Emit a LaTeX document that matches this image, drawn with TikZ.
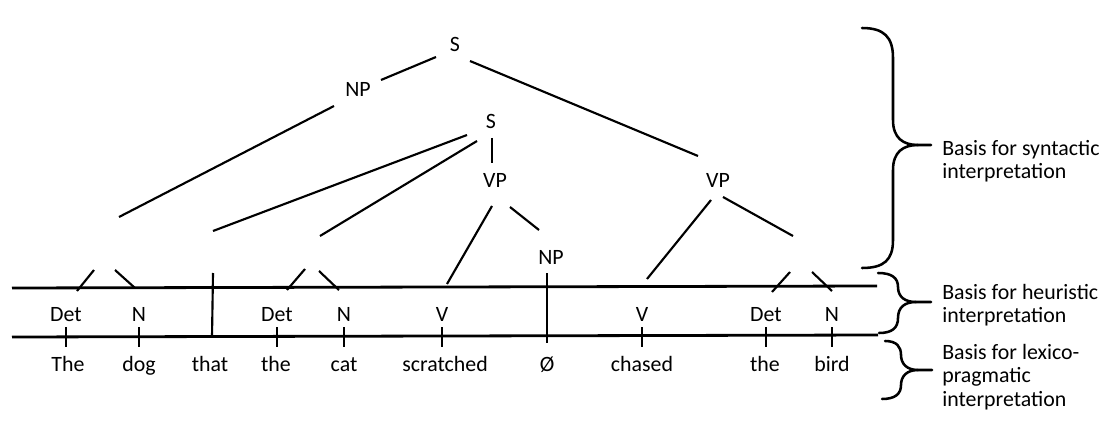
\documentclass[tikz,border=0pt]{standalone}
\usepackage{fontspec}
\setmainfont{Carlito}
\begin{document}
\begin{tikzpicture}[x=0.75pt,y=-0.75pt,
  every node/.style={font=\fontsize{16.4}{17.5}\selectfont, inner sep=0pt},
  lbl/.style={anchor=base},
  branch/.style={line width=1.6pt},
  rulebar/.style={line width=2.1pt},
  tickmark/.style={line width=1.6pt},
  brace/.style={line width=1.9pt, line cap=round},
  side/.style={anchor=west, align=left}]
\useasboundingbox (0,0) rectangle (1105,424);

% phrase labels
\node[lbl] (S0)  at (455,52)  {S};
\node[lbl] (NP0) at (358,97)  {NP};
\node[lbl] (S1)  at (491,129) {S};
\node[lbl] (VP1) at (495,187) {VP};
\node[lbl] (NP1) at (551,264) {NP};
\node[lbl] (VP0) at (718,187) {VP};

% word-class labels
\node[lbl] (p1) at (66,321)  {Det};
\node[lbl] (p2) at (139,321) {N};
\node[lbl] (p3) at (277,321) {Det};
\node[lbl] (p4) at (344,321) {N};
\node[lbl] (p5) at (442,321) {V};
\node[lbl] (p6) at (642,321) {V};
\node[lbl] (p7) at (766,321) {Det};
\node[lbl] (p8) at (832,321) {N};

% words
\node[lbl] (w1)  at (68,371)  {The};
\node[lbl] (w2)  at (139,371) {dog};
\node[lbl] (w3)  at (210,371) {that};
\node[lbl] (w4)  at (276,371) {the};
\node[lbl] (w5)  at (344,371) {cat};
\node[lbl] (w6)  at (445,371) {scratched};
\node[lbl] (w7)  at (547,371) {Ø};
\node[lbl] (w8)  at (642,371) {chased};
\node[lbl] (w9)  at (765,371) {the};
\node[lbl] (w10) at (832,371) {bird};

% the two horizontal levels
\coordinate (uL) at (12,288);  \coordinate (uR) at (877,286);
\coordinate (lL) at (12,337);  \coordinate (lR) at (878,335);
\draw[rulebar] (uL) -- (uR);
\draw[rulebar] (lL) -- (lR);

% ticks on the lower level
\foreach \n in {p1,p2,p3,p4,p5,p6,p7,p8}
  \draw[tickmark] (\n.base |- 0,327) -- (\n.base |- 0,347);

% branch end points
\coordinate (a1) at (436,57);  \coordinate (a2) at (381,80);
\coordinate (b1) at (470,61);  \coordinate (b2) at (698,156);
\coordinate (c1) at (334,106); \coordinate (c2) at (119,217);
\coordinate (d1) at (94,270);  \coordinate (d2) at (77,291);
\coordinate (e1) at (115,270); \coordinate (e2) at (135,288);
\coordinate (f1) at (467,135); \coordinate (f2) at (213,231);
\coordinate (g1) at (213,273); \coordinate (g2) at (212,337);
\coordinate (h1) at (477,141); \coordinate (h2) at (320,236);
\coordinate (i1) at (305,269); \coordinate (i2) at (287,290);
\coordinate (j1) at (319,271); \coordinate (j2) at (339,290);
\coordinate (k1) at (492,138); \coordinate (k2) at (492,163);
\coordinate (m1) at (492,206); \coordinate (m2) at (447,284);
\coordinate (n1) at (510,207); \coordinate (n2) at (539,230);
\coordinate (o1) at (547,273); \coordinate (o2) at (547,343);
\coordinate (q1) at (711,200); \coordinate (q2) at (647,279);
\coordinate (r1) at (723,197); \coordinate (r2) at (793,236);
\coordinate (s1) at (790,272); \coordinate (s2) at (772,292);
\coordinate (t1) at (812,272); \coordinate (t2) at (832,291);

\foreach \u/\v in {a1/a2,b1/b2,c1/c2,d1/d2,e1/e2,f1/f2,g1/g2,h1/h2,i1/i2,
                   j1/j2,k1/k2,m1/m2,n1/n2,o1/o2,q1/q2,r1/r2,s1/s2,t1/t2}
  \draw[branch] (\u) -- (\v);

% braces
\draw[brace] (862,28) .. controls (884,28) and (893,37) .. (893,58) -- (893,120)
  .. controls (893,138) and (903,145) .. (918,145) -- (931,145);
\draw[brace] (918,145) .. controls (903,145) and (893,152) .. (893,170) -- (893,240)
  .. controls (893,260) and (884,268) .. (862,268);

\draw[brace] (878,273) .. controls (892,273) and (898,278) .. (898,287)
  .. controls (898,297) and (905,302) .. (916,302) -- (931,302);
\draw[brace] (916,302) .. controls (905,302) and (898,307) .. (898,318)
  .. controls (898,328) and (892,333) .. (879,333);

\draw[brace] (885,341) .. controls (897,341) and (901,347) .. (901,355)
  .. controls (901,364) and (907,370) .. (918,370) -- (932,370);
\draw[brace] (918,370) .. controls (907,370) and (901,376) .. (901,385)
  .. controls (901,394) and (895,399) .. (882,399);

% level descriptions
\node[side] (L1) at (942,161) {Basis for syntactic\\interpretation};
\node[side] (L2) at (942,305) {Basis for heuristic\\interpretation};
\node[side] (L3) at (942,377) {Basis for lexico-\\pragmatic\\interpretation};
\end{tikzpicture}
\end{document}
